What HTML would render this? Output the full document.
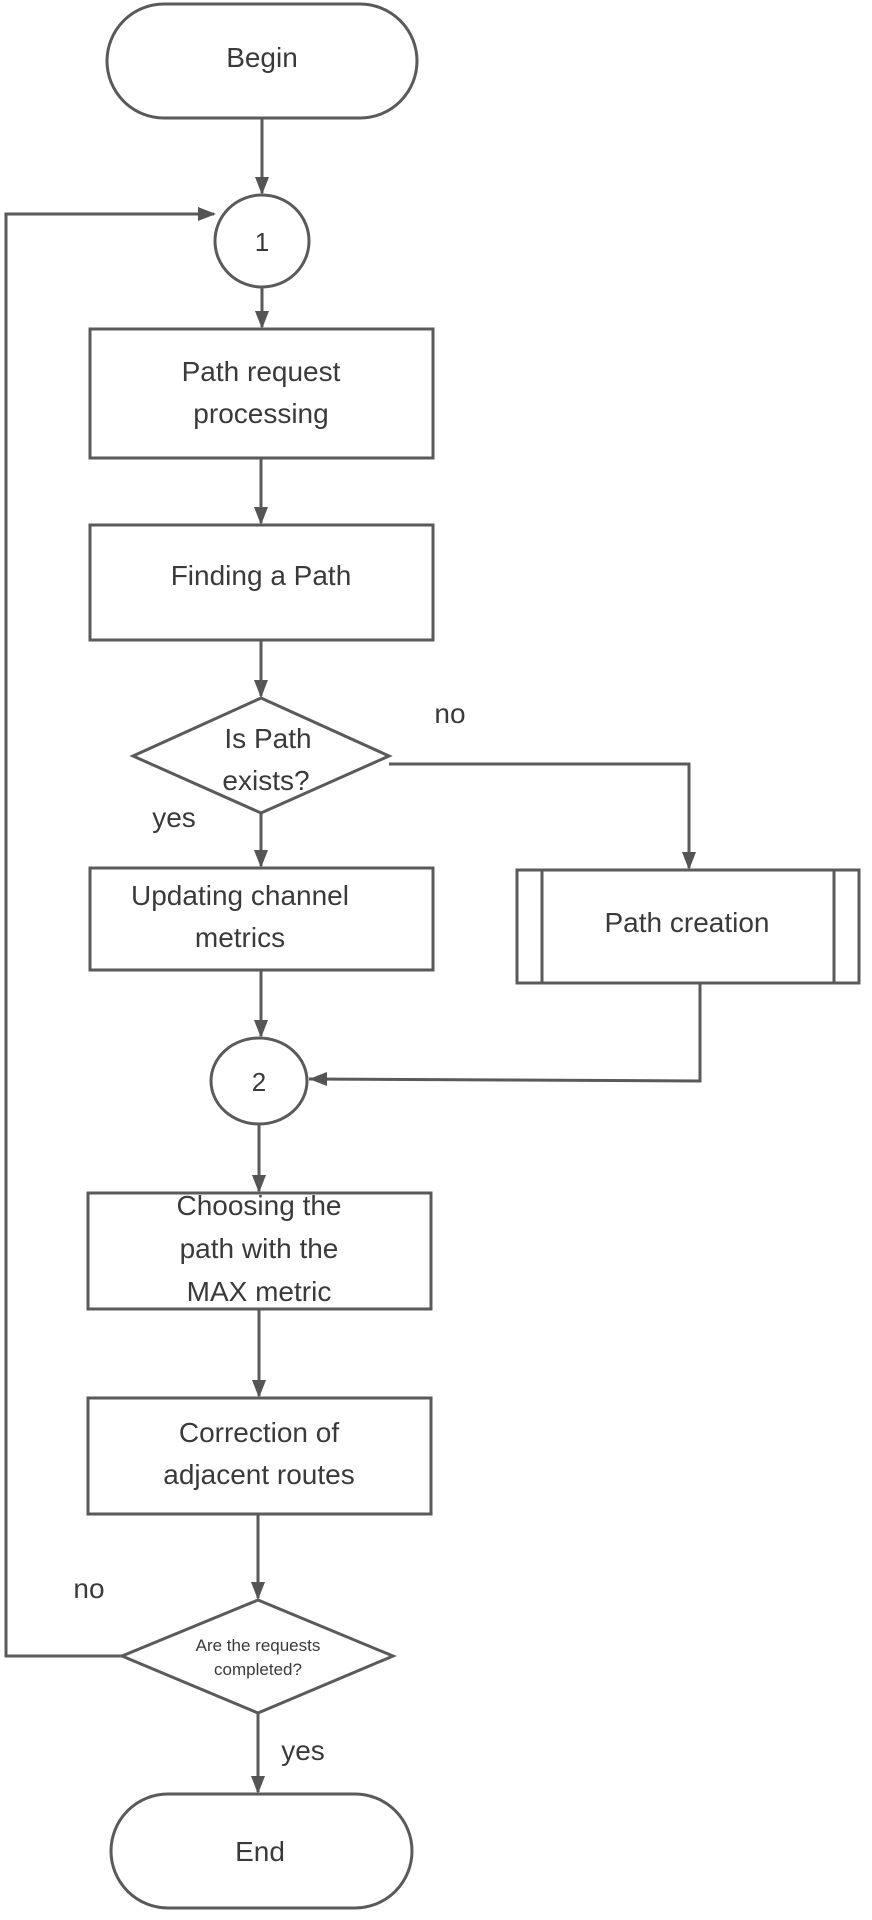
<!DOCTYPE html>
<html><head><meta charset="utf-8"><style>
html,body{margin:0;padding:0;background:#fff;}
svg{display:block;}
text{font-family:"Liberation Sans",sans-serif;fill:#3a3a3a;text-anchor:middle;}
</style></head><body>
<svg width="872" height="1920" viewBox="0 0 872 1920" xmlns="http://www.w3.org/2000/svg">
<defs>
<marker id="a" viewBox="0 0 10 10" refX="10" refY="5" markerWidth="5" markerHeight="5" orient="auto" markerUnits="userSpaceOnUse" style="overflow:visible">
<path d="M0,0 L10,5 L0,10 z" fill="#555" transform="scale(1.6) translate(-3.8,-1.9)"/>
</marker>
</defs>
<g fill="none" stroke="#5a5a5a" stroke-width="3">
<!-- shapes -->
<rect x="107" y="4" width="310" height="114" rx="57" fill="#fff"/>
<ellipse cx="262" cy="241" rx="47" ry="46" fill="#fff"/>
<rect x="90" y="329" width="343" height="129" fill="#fff"/>
<rect x="90" y="525" width="343" height="115" fill="#fff"/>
<polygon points="261,698 389,756 261,813 133,756" fill="#fff"/>
<rect x="90" y="868" width="343" height="102" fill="#fff"/>
<rect x="517" y="870" width="342" height="113" fill="#fff"/>
<line x1="542" y1="870" x2="542" y2="983"/>
<line x1="834" y1="870" x2="834" y2="983"/>
<ellipse cx="259" cy="1081" rx="48" ry="43" fill="#fff"/>
<rect x="88" y="1193" width="343" height="116" fill="#fff"/>
<rect x="88" y="1398" width="343" height="116" fill="#fff"/>
<polygon points="258,1600 393,1656 258,1713 122,1656" fill="#fff"/>
<rect x="111" y="1794" width="301" height="114" rx="57" fill="#fff"/>
<!-- connectors -->
<line x1="262" y1="118" x2="262" y2="193"/>
<polyline points="122,1656 6,1656 6,214 214,214"/>
<line x1="262" y1="287" x2="262" y2="327"/>
<line x1="261" y1="458" x2="261" y2="523"/>
<line x1="261" y1="640" x2="261" y2="696"/>
<line x1="261" y1="813" x2="261" y2="866"/>
<polyline points="389,764 689,764 689,868"/>
<line x1="261" y1="970" x2="261" y2="1036"/>
<polyline points="700,983 700,1081 309,1079"/>
<line x1="259" y1="1124" x2="259" y2="1191"/>
<line x1="259" y1="1309" x2="259" y2="1396"/>
<line x1="258" y1="1514" x2="258" y2="1598"/>
<line x1="258" y1="1713" x2="258" y2="1792"/>
</g>
<g fill="#555">
<polygon points="262,195 255,177 269,177"/>
<polygon points="216,214 198,207 198,221"/>
<polygon points="262,329 255,311 269,311"/>
<polygon points="261,525 254,507 268,507"/>
<polygon points="261,698 254,680 268,680"/>
<polygon points="261,868 254,850 268,850"/>
<polygon points="689,870 682,852 696,852"/>
<polygon points="261,1038 254,1020 268,1020"/>
<polygon points="309,1079 327,1072 327,1086"/>
<polygon points="259,1193 252,1175 266,1175"/>
<polygon points="259,1398 252,1380 266,1380"/>
<polygon points="258,1600 251,1582 265,1582"/>
<polygon points="258,1794 251,1776 265,1776"/>
</g>
<g font-size="28">
<text x="262" y="67">Begin</text>
<text x="262" y="251" font-size="26">1</text>
<text x="261" y="381">Path request</text>
<text x="261" y="423">processing</text>
<text x="261" y="585">Finding a Path</text>
<text x="268" y="748">Is Path</text>
<text x="266" y="790">exists?</text>
<text x="450" y="723">no</text>
<text x="174" y="827">yes</text>
<text x="240" y="905">Updating channel</text>
<text x="240" y="947">metrics</text>
<text x="687" y="932">Path creation</text>
<text x="259" y="1091" font-size="26">2</text>
<text x="259" y="1215">Choosing the</text>
<text x="259" y="1258">path with the</text>
<text x="259" y="1301">MAX metric</text>
<text x="259" y="1442">Correction of</text>
<text x="259" y="1484">adjacent routes</text>
<text x="89" y="1598">no</text>
<text x="258" y="1651" font-size="17">Are the requests</text>
<text x="258" y="1675" font-size="17">completed?</text>
<text x="303" y="1760">yes</text>
<text x="260" y="1861">End</text>
</g>
</svg>
</body></html>
